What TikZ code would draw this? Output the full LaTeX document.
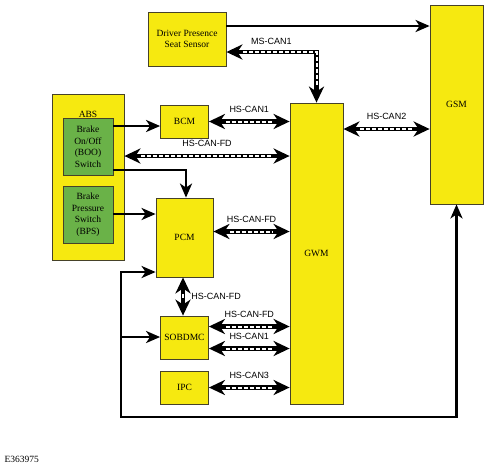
\documentclass[tikz,border=0pt]{standalone}
\usepackage{fontspec}
\setmainfont{Liberation Serif}
\setsansfont{Liberation Sans}
\usetikzlibrary{positioning, arrows.meta}

\definecolor{modfill}{RGB}{246,233,16}
\definecolor{swfill}{RGB}{106,178,72}
\definecolor{modline}{RGB}{70,66,40}

\tikzset{
    wiretip/.tip={Stealth[length=14pt, width=12pt, inset=4pt]},
    bustip/.tip={Stealth[length=16pt, width=15pt, inset=5pt]}
}

\begin{document}
\begin{tikzpicture}[x=1pt, y=1pt, on grid,
    module/.style={draw=modline, line width=0.8pt, fill=modfill, inner sep=0pt,
        align=center, font=\fontsize{9.5}{11.5}\selectfont},
    switch/.style={module, fill=swfill, minimum width=50pt, minimum height=57pt},
    wire/.style={line width=2.8pt, -wiretip},
    bus/.style={line width=4.8pt, bustip-bustip,
        postaction={draw=white, -, line width=2pt, dash pattern=on 4pt off 2pt,
            shorten <=17pt, shorten >=17pt}},
    busname/.style={font=\sffamily\fontsize{9}{10}\selectfont, inner sep=1pt}]
    \useasboundingbox (0,0) rectangle (489,-467);

    % Nodes
    \node[module, minimum width=53pt, minimum height=199pt] (gsm) at (456.5,-104.5) {GSM};
    \node[module, minimum width=53pt, minimum height=301pt] (gwm) [below left=149pt and 140pt of gsm] {GWM};
    \node[module, minimum width=57pt, minimum height=79pt] (pcm) [left=132pt of gwm, yshift=16pt] {PCM};
    \node[module, minimum width=48pt, minimum height=33pt] (bcm) [above=116pt of pcm] {BCM};
    \node[module, minimum width=48pt, minimum height=43pt] (sobdmc) [below=100pt of pcm] {SOBDMC};
    \node[module, minimum width=48pt, minimum height=33pt] (ipc) [below=50pt of sobdmc] {IPC};
    \node[module, minimum width=78pt, minimum height=54pt] (dpss) [above=198.5pt of pcm, xshift=2.5pt] {Driver Presence\\Seat Sensor};
    \node[module, minimum width=72pt, minimum height=166pt] (abs) [above left=60.5pt and 96.5pt of pcm] {};
    \node[font=\fontsize{9.5}{11.5}\selectfont] (abslbl) [below=14pt of abs.north] {ABS};
    \node[switch] (boo) [above=30.5pt of abs] {Brake\\On/Off\\(BOO)\\Switch};
    \node[switch] (bps) [below=37.5pt of abs] {Brake\\Pressure\\Switch\\(BPS)};
    \node[anchor=west, font=\fontsize{9.5}{11}\selectfont] (figid) at (1,-459) {E363975};

    % Helper points
    \coordinate (dp1) at ([yshift=13pt]dpss.east);
    \coordinate (dp2) at ([yshift=-13pt]dpss.east);
    \coordinate (ab1) at ([yshift=21pt]abs.east);
    \coordinate (pc1) at ([yshift=6pt]pcm.east);
    \coordinate (pc2) at ([yshift=-34.5pt]pcm.west);
    \coordinate (sb1) at ([yshift=11pt]sobdmc.east);
    \coordinate (sb2) at ([yshift=-11pt]sobdmc.east);
    \coordinate (gs1) at ([yshift=-24.5pt]gsm.west);
    \coordinate (bo1) at ([yshift=20.5pt]boo.east);
    \coordinate (bo2) at ([yshift=-23.5pt]boo.east);
    \coordinate (lp) at (121,-417);

    % Hard wired
    \draw[wire] (dp1) -- (dp1 -| gsm.west);
    \draw[wire] (bo1) -- (bo1 -| bcm.west);
    \draw[wire] (bo2) -| ([xshift=1.5pt]pcm.north);
    \draw[wire] ([yshift=0.5pt]bps.east) -- ([yshift=0.5pt]bps.east -| pcm.west);
    \draw[wire, wiretip-wiretip] (pc2) -- (pc2 -| lp) -- (lp) -| (gsm.south);
    \draw[wire] ([yshift=0.5pt]lp |- sobdmc.west) -- ([yshift=0.5pt]sobdmc.west);

    % Networks
    \draw[bus] (dp2) -| node[busname, pos=.25, above=4pt] {MS-CAN1} (gwm.north);
    \draw[bus] (bcm.east) -- node[busname, above=6pt] {HS-CAN1} (bcm.east -| gwm.west);
    \draw[bus] (ab1) -- node[busname, above=6pt] {HS-CAN-FD} (ab1 -| gwm.west);
    \draw[bus] (pc1) -- node[busname, above=6pt] {HS-CAN-FD} (pc1 -| gwm.west);
    \draw[bus] ([xshift=-1.5pt]pcm.south) -- node[busname, right=5pt] {HS-CAN-FD} ([xshift=-1.5pt]sobdmc.north);
    \draw[bus] (sb1) -- node[busname, above=6pt] {HS-CAN-FD} (sb1 -| gwm.west);
    \draw[bus] (sb2) -- node[busname, above=6pt] {HS-CAN1} (sb2 -| gwm.west);
    \draw[bus] (ipc.east) -- node[busname, above=6pt] {HS-CAN3} (ipc.east -| gwm.west);
    \draw[bus] (gwm.east |- gs1) -- node[busname, above=6pt] {HS-CAN2} (gs1);
\end{tikzpicture}
\end{document}
